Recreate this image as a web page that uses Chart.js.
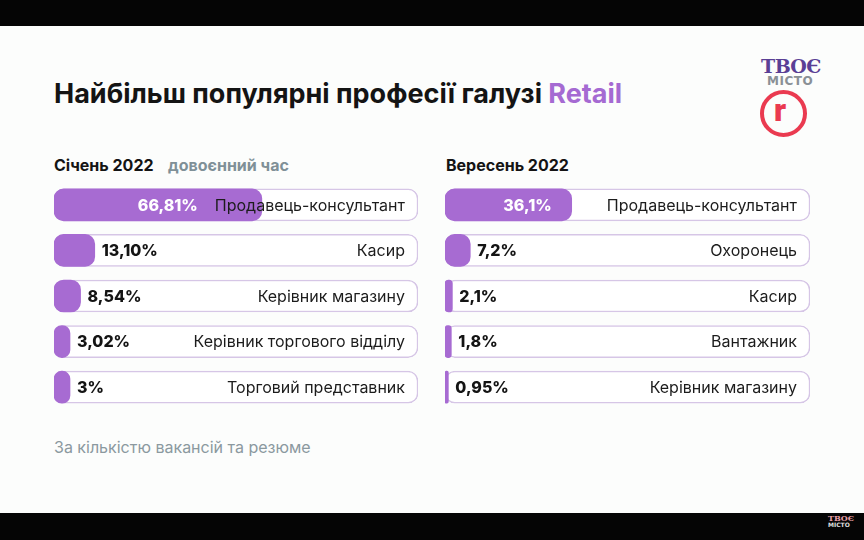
<!DOCTYPE html>
<html>
<head>
<meta charset="utf-8">
<script src="https://cdn.jsdelivr.net/npm/chart.js@4"></script>
<style>
  html, body { margin: 0; padding: 0; }
  body { width: 864px; height: 540px; position: relative; overflow: hidden; background: #fcfdfc; font-family: Inter, "Noto Sans", sans-serif; }
  .band { position: absolute; left: 0; width: 864px; background: #050505; }
  .abs { position: absolute; white-space: nowrap; }
  #title { left: 54px; top: 77px; font-size: 27px; font-weight: 700; color: #141414; letter-spacing: 0px; }
  #title span { color: #a56ad2; }
  .sub { top: 155px; font-size: 16px; font-weight: 700; color: #141414; }
  #foot { left: 54px; top: 437px; font-size: 16px; color: #8b999f; }
  .wrap { position: absolute; }
</style>
</head>
<body>
<div class="band" style="top:0;height:26px"></div>
<div class="band" style="top:513px;height:27px"></div>

<div id="title" class="abs">Найбільш популярні професії галузі <span>Retail</span></div>
<div class="abs sub" style="left:54px">Січень 2022</div>
<div class="abs sub" style="left:168px;color:#7f9097">довоєнний час</div>
<div class="abs sub" style="left:446px">Вересень 2022</div>
<div id="foot" class="abs">За кількістю вакансій та резюме</div>

<!-- logo -->
<div class="abs" style="left:761px;top:55px;font-family:'DejaVu Serif',serif;font-weight:700;font-size:19px;color:#5a3f95;letter-spacing:-0.5px">ТВОЄ</div>
<div class="abs" style="left:767px;top:74px;font-family:'DejaVu Sans',sans-serif;font-weight:700;font-size:12px;color:#8a9096;letter-spacing:0.5px">МІСТО</div>
<div class="abs" style="left:760px;top:90px;width:39px;height:39px;border:4px solid #ea3a50;border-radius:50%"></div>
<div class="abs" style="left:774px;top:91px;font-family:Roboto,sans-serif;font-weight:900;font-size:32px;color:#ea3a50">r</div>
<div class="abs" style="left:828px;top:513px;font-family:'DejaVu Serif',serif;font-weight:700;font-size:8px;color:#e8a0a8">ТВОЄ</div>
<div class="abs" style="left:828px;top:521px;font-family:'DejaVu Sans',sans-serif;font-weight:700;font-size:6px;color:#e0e0e0">МІСТО</div>

<div class="wrap" style="left:53px;top:182px;width:366px;height:228px"><canvas id="left"></canvas></div>
<div class="wrap" style="left:444px;top:182px;width:367px;height:228px"><canvas id="right"></canvas></div>

<script>
// Січень 2022 (довоєнний час)
const janJobs = ['Продавець-консультант', 'Касир', 'Керівник магазину', 'Керівник торгового відділу', 'Торговий представник'];
const janValues = [66.81, 13.10, 8.54, 3.02, 3];
const janLabels = ['66,81%', '13,10%', '8,54%', '3,02%', '3%'];

// Вересень 2022
const sepJobs = ['Продавець-консультант', 'Охоронець', 'Касир', 'Вантажник', 'Керівник магазину'];
const sepValues = [36.1, 7.2, 2.1, 1.8, 0.95];
const sepLabels = ['36,1%', '7,2%', '2,1%', '1,8%', '0,95%'];

const purple = '#a76bd2';
const FONT = 'Inter, "Noto Sans", sans-serif';

// value text + profession name inside each pill
const pillText = {
  id: 'pillText',
  afterDatasetsDraw(chart, args, opts) {
    const ctx = chart.ctx;
    const area = chart.chartArea;
    const bars = chart.getDatasetMeta(0).data;
    ctx.save();
    ctx.textBaseline = 'middle';
    bars.forEach((bar, i) => {
      const y = bar.y + 1;
      ctx.font = '400 16px ' + FONT;
      ctx.fillStyle = '#1c1c1c';
      ctx.textAlign = 'right';
      const catRight = area.right - 13;
      ctx.fillText(opts.jobs[i], catRight, y);
      const catLeft = catRight - ctx.measureText(opts.jobs[i]).width;

      ctx.font = '800 16px ' + FONT;
      const w = bar.x - bar.base;
      if (w > 100) {
        ctx.fillStyle = '#ffffff';
        ctx.textAlign = 'right';
        ctx.fillText(opts.labels[i], Math.min(bar.x - 20, catLeft - 17), y);
      } else {
        ctx.fillStyle = '#141414';
        ctx.textAlign = 'left';
        ctx.fillText(opts.labels[i], bar.x + 7, y);
      }
    });
    ctx.restore();
  }
};

function makeChart(id, jobs, values, labels, max, minLen) {
  return new Chart(document.getElementById(id), {
    type: 'bar',
    data: {
      labels: jobs,
      datasets: [{
        data: values,
        backgroundColor: purple,
        borderRadius: 10,
        borderSkipped: false,
        barThickness: 32,
        minBarLength: minLen,
        order: 0
      }, {
        data: jobs.map(() => max),
        backgroundColor: '#ffffff',
        borderColor: '#d6c6e6',
        borderWidth: 1.5,
        borderRadius: 10,
        borderSkipped: false,
        barThickness: 32,
        order: 1
      }]
    },
    options: {
      indexAxis: 'y',
      responsive: true,
      maintainAspectRatio: false,
      animation: false,
      grouped: false,
      layout: { padding: { left: 1, right: 1, top: 0, bottom: 0 } },
      scales: {
        x: { display: false, min: 0, max: max },
        y: { display: false }
      },
      plugins: {
        legend: { display: false },
        tooltip: { enabled: false },
        pillText: { jobs: jobs, labels: labels }
      }
    },
    plugins: [pillText]
  });
}

makeChart('left', janJobs, janValues, janLabels, 117, 16);
makeChart('right', sepJobs, sepValues, sepLabels, 104, 3);
</script>
</body>
</html>
